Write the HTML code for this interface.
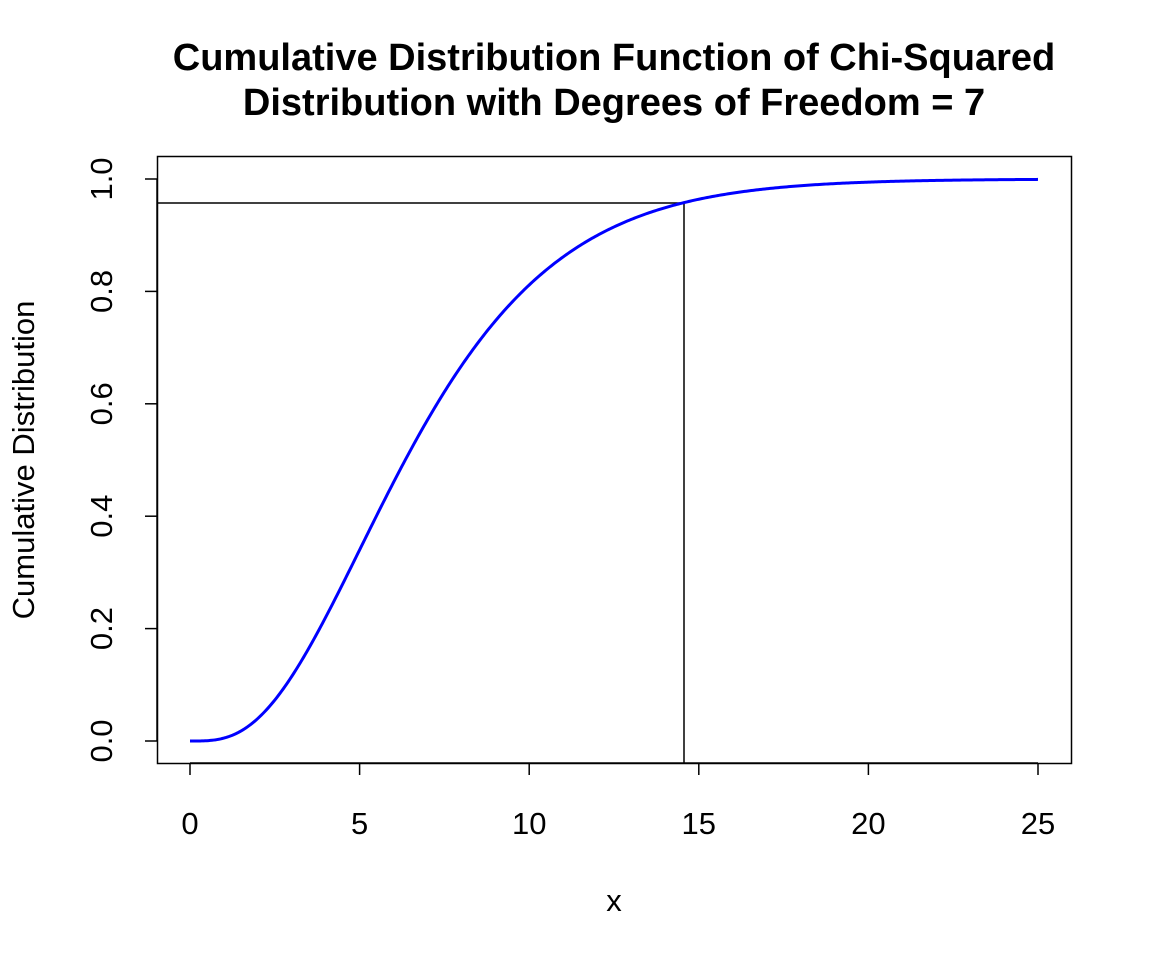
<!DOCTYPE html>
<html><head><meta charset="utf-8"><style>
html,body{margin:0;padding:0;background:#fff}
svg{display:block;font-family:"Liberation Sans",Arial,sans-serif}
</style></head><body>
<svg id="s" width="1152" height="960" viewBox="0 0 1152 960" xmlns="http://www.w3.org/2000/svg">
<rect width="1152" height="960" fill="#fff"/>
<text x="614" y="70" font-size="38" font-weight="bold" text-anchor="middle">Cumulative Distribution Function of Chi-Squared</text>
<text x="614" y="115" font-size="38" font-weight="bold" text-anchor="middle">Distribution with Degrees of Freedom = 7</text>
<rect x="157.5" y="156.5" width="914" height="607" fill="none" stroke="#000" stroke-width="1.5"/>
<g stroke="#000" stroke-width="1.5">
<line x1="190" y1="763" x2="1038" y2="763"/>
<line x1="190" y1="763" x2="190" y2="775"/><line x1="359.6" y1="763" x2="359.6" y2="775"/>
<line x1="529.2" y1="763" x2="529.2" y2="775"/><line x1="698.8" y1="763" x2="698.8" y2="775"/>
<line x1="868.4" y1="763" x2="868.4" y2="775"/><line x1="1038" y1="763" x2="1038" y2="775"/>
<line x1="157" y1="179" x2="157" y2="741"/>
<line x1="157" y1="741" x2="145" y2="741"/><line x1="157" y1="628.6" x2="145" y2="628.6"/>
<line x1="157" y1="516.2" x2="145" y2="516.2"/><line x1="157" y1="403.8" x2="145" y2="403.8"/>
<line x1="157" y1="291.4" x2="145" y2="291.4"/><line x1="157" y1="179" x2="145" y2="179"/>
</g>
<g font-size="31" text-anchor="middle">
<text x="190" y="834">0</text><text x="359.6" y="834">5</text><text x="529.2" y="834">10</text>
<text x="698.8" y="834">15</text><text x="868.4" y="834">20</text><text x="1038" y="834">25</text>
<text transform="translate(112,741) rotate(-90)">0.0</text>
<text transform="translate(112,628.6) rotate(-90)">0.2</text>
<text transform="translate(112,516.2) rotate(-90)">0.4</text>
<text transform="translate(112,403.8) rotate(-90)">0.6</text>
<text transform="translate(112,291.4) rotate(-90)">0.8</text>
<text transform="translate(112,179) rotate(-90)">1.0</text>
<text x="614" y="911">x</text>
<text transform="translate(34,460) rotate(-90)">Cumulative Distribution</text>
</g>
<line x1="157" y1="203" x2="684" y2="203" stroke="#000" stroke-width="1.5"/>
<line x1="684" y1="203" x2="684" y2="763" stroke="#000" stroke-width="1.5"/>
<path id="c" fill="none" stroke="#0000ff" stroke-width="3"/>
</svg>
<script>
function lg(z){var g=[76.18009172947146,-86.50532032941677,24.01409824083091,-1.231739572450155,0.1208650973866179e-2,-0.5395239384953e-5];var x=z,y=z,t=x+5.5;t-=(x+0.5)*Math.log(t);var s=1.000000000190015;for(var j=0;j<6;j++)s+=g[j]/++y;return -t+Math.log(2.5066282746310005*s/x);}
function P(a,x){if(x<=0)return 0;var sum=1/a,del=sum,ap=a;for(var n=0;n<500;n++){ap++;del*=x/ap;sum+=del;if(Math.abs(del)<1e-14*sum)break;}return sum*Math.exp(-x+a*Math.log(x)-lg(a));}
var d="";for(var i=0;i<=500;i++){var x=25*i/500;var v=P(3.5,x/2);d+=(i?"L":"M")+(190+x*33.92).toFixed(2)+","+(741-v*562).toFixed(2);}
document.getElementById("c").setAttribute("d",d);
</script>
</body></html>
